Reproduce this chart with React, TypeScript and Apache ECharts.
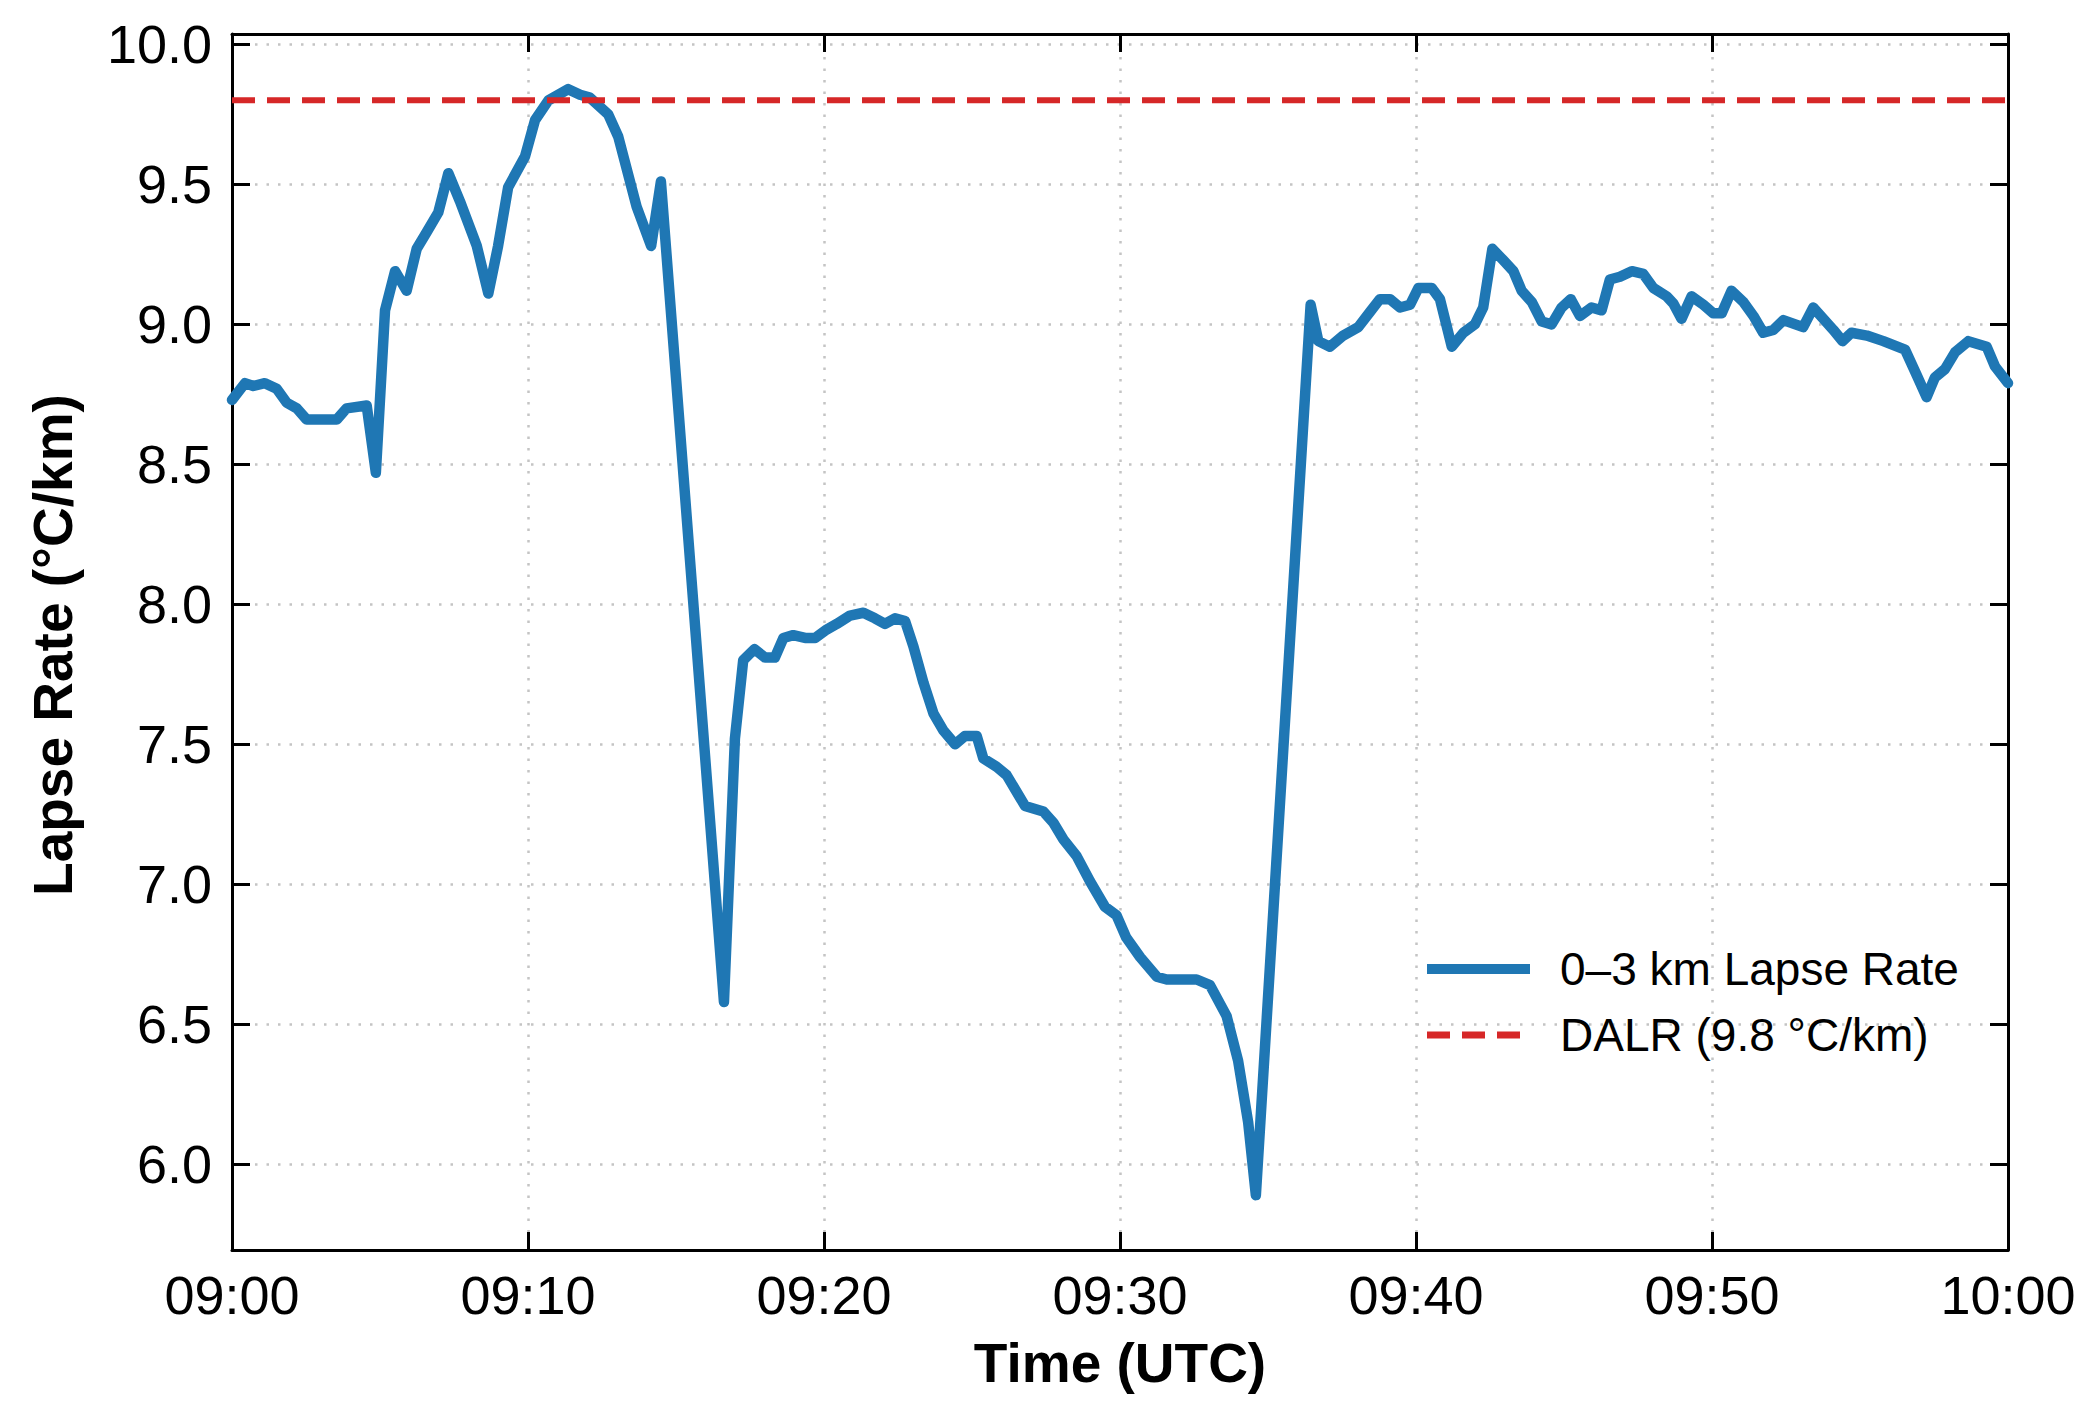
import React, { useEffect, useRef } from "react";
import * as echarts from "echarts";

// minutes after 09:00 UTC
const minutes = [
  0.0, 0.44, 0.72, 1.11, 1.51, 1.85, 2.19, 2.52, 2.86, 3.54, 3.87, 4.55, 4.86, 5.17, 5.51, 5.9, 6.24, 6.58, 6.97, 7.31,
  7.7, 8.27, 8.66, 8.99, 9.33, 9.9, 10.24, 10.69, 11.36, 11.76, 12.09, 12.71, 13.05, 13.67, 14.16, 14.49, 16.62, 16.99,
  17.27, 17.65, 18.01, 18.34, 18.63, 18.96, 19.36, 19.7, 20.09, 20.43, 20.88, 21.33, 21.72, 22.06, 22.4, 22.74, 23.02,
  23.36, 23.7, 24.03, 24.43, 24.76, 25.16, 25.38, 25.83, 26.17, 26.51, 26.79, 27.41, 27.75, 28.09, 28.54, 28.99, 29.49,
  29.88, 30.21, 30.68, 31.24, 31.58, 32.59, 33.04, 33.6, 33.99, 34.33, 34.59, 36.44, 36.7, 37.09, 37.54, 38.05, 38.45,
  38.78, 39.12, 39.46, 39.8, 40.08, 40.53, 40.81, 41.21, 41.6, 41.99, 42.27, 42.58, 42.94, 43.29, 43.57, 43.91, 44.25,
  44.58, 44.92, 45.23, 45.54, 45.93, 46.27, 46.55, 46.89, 47.29, 47.68, 48.02, 48.47, 48.69, 48.97, 49.31, 49.71, 50.04,
  50.33, 50.66, 51.06, 51.4, 51.73, 52.07, 52.41, 53.08, 53.42, 53.76, 54.1, 54.41, 54.71, 55.23, 55.79, 56.52, 56.91,
  57.25, 57.53, 57.87, 58.21, 58.66, 59.28, 59.56, 60.0,
];

// 0–3 km lapse rate, °C/km
const lapseRate = [
  8.73, 8.79, 8.78, 8.79, 8.77, 8.72, 8.7, 8.66, 8.66, 8.66, 8.7, 8.71, 8.47, 9.05, 9.19, 9.12, 9.27, 9.33, 9.4, 9.54,
  9.44, 9.28, 9.11, 9.28, 9.49, 9.6, 9.73, 9.8, 9.84, 9.82, 9.81, 9.75, 9.67, 9.42, 9.28, 9.51, 6.58, 7.52,
  7.8, 7.84, 7.81, 7.81, 7.88, 7.89, 7.88, 7.88, 7.91, 7.93, 7.96, 7.97, 7.95, 7.93, 7.95, 7.94, 7.85,
  7.72, 7.61, 7.55, 7.5, 7.53, 7.53, 7.45, 7.42, 7.39, 7.33, 7.28, 7.26, 7.22, 7.16, 7.1, 7.01, 6.92,
  6.89, 6.81, 6.74, 6.67, 6.66, 6.66, 6.64, 6.53, 6.37, 6.15, 5.89, 9.07, 8.94, 8.92, 8.96, 8.99, 9.045,
  9.09, 9.09, 9.06, 9.07, 9.13, 9.13, 9.09, 8.92, 8.97, 9.0, 9.06, 9.27, 9.23, 9.19, 9.12, 9.08, 9.01,
  9.0, 9.06, 9.09, 9.03, 9.06, 9.05, 9.16, 9.17, 9.19, 9.18, 9.13, 9.1, 9.075, 9.02, 9.1, 9.07, 9.04,
  9.04, 9.12, 9.08, 9.03, 8.97, 8.98, 9.015, 8.99, 9.06, 9.02, 8.98, 8.94, 8.97, 8.96, 8.94, 8.91, 8.82,
  8.74, 8.81, 8.84, 8.9, 8.94, 8.92, 8.85, 8.79,
];

const dalrValue = 9.8;
const dalrMinutes = [0, 60];
const seriesNames = ["0–3 km Lapse Rate", "DALR (9.8 °C/km)"];
const xTitle = "Time (UTC)";
const yTitle = "Lapse Rate (°C/km)";
const xRange = [0, 60];
const yRange = [5.694, 10.037];
const xTickValues = [0, 10, 20, 30, 40, 50, 60];
const yTickValues = [6.0, 6.5, 7.0, 7.5, 8.0, 8.5, 9.0, 9.5, 10.0];

const FONT = '"Liberation Sans", Arial, Helvetica, sans-serif';
const BLUE = "#1f77b4";
const RED = "#d62728";

const fmtTime = (v: number) => {
  const total = 9 * 60 + Math.round(v);
  const h = Math.floor(total / 60);
  const m = total % 60;
  return `${String(h).padStart(2, "0")}:${String(m).padStart(2, "0")}`;
};

export default function App() {
  const ref = useRef<HTMLDivElement>(null);
  useEffect(() => {
    const chart = echarts.init(ref.current!, null, { renderer: "svg" });
    const axisLine = { show: true, onZero: false, lineStyle: { color: "#000", width: 3 } };
    const tickStyle = { color: "#000", width: 3 };
    const splitLine = { show: true, lineStyle: { color: "#c4c4c4", width: 2.5, type: [2.5, 9] } };
    const xTick = { show: true, inside: true, length: 18, lineStyle: tickStyle, customValues: xTickValues };
    const yTick = { show: true, inside: true, length: 18, lineStyle: tickStyle, customValues: yTickValues };
    chart.setOption({
      animation: false,
      backgroundColor: "#fff",
      grid: { left: 232, top: 34, width: 1776, height: 1216, show: false },
      xAxis: [
        {
          type: "value",
          position: "bottom",
          min: xRange[0],
          max: xRange[1],
          interval: 10,
          axisLine,
          axisTick: xTick,
          splitLine,
          axisLabel: {
            customValues: xTickValues,
            formatter: fmtTime,
            fontSize: 54,
            color: "#000",
            fontFamily: FONT,
            margin: 18,
          },
        },
        {
          type: "value",
          position: "top",
          min: xRange[0],
          max: xRange[1],
          interval: 10,
          axisLine,
          axisTick: xTick,
          splitLine: { show: false },
          axisLabel: { show: false },
        },
      ],
      yAxis: [
        {
          type: "value",
          position: "left",
          min: yRange[0],
          max: yRange[1],
          axisLine,
          axisTick: yTick,
          splitLine,
          axisLabel: {
            customValues: yTickValues,
            formatter: (v: number) => v.toFixed(1),
            fontSize: 54,
            color: "#000",
            fontFamily: FONT,
            margin: 20,
          },
        },
        {
          type: "value",
          position: "right",
          min: yRange[0],
          max: yRange[1],
          axisLine,
          axisTick: yTick,
          splitLine: { show: false },
          axisLabel: { show: false },
        },
      ],
      legend: {
        orient: "vertical",
        left: 1422,
        top: 944,
        padding: 0,
        itemWidth: 103,
        itemHeight: 12,
        itemGap: 16,
        textStyle: { fontSize: 46, fontFamily: FONT, color: "#000", lineHeight: 50, padding: [0, 0, 0, 25] },
        data: [
          {
            name: seriesNames[0],
            itemStyle: { opacity: 0 },
            lineStyle: { width: 10, color: BLUE, type: "solid", cap: "butt" },
          },
          {
            name: seriesNames[1],
            itemStyle: { opacity: 0 },
            lineStyle: { width: 7, color: RED, type: [23, 12], cap: "butt" },
          },
        ],
      },
      series: [
        {
          name: seriesNames[0],
          type: "line",
          xAxisIndex: 0,
          yAxisIndex: 0,
          data: minutes.map((m, i) => [m, lapseRate[i]]),
          symbol: "none",
          showSymbol: false,
          color: BLUE,
          lineStyle: { color: BLUE, width: 10.5, join: "round", cap: "round" },
          z: 3,
        },
        {
          name: seriesNames[1],
          type: "line",
          xAxisIndex: 0,
          yAxisIndex: 0,
          data: dalrMinutes.map((m) => [m, dalrValue]),
          symbol: "none",
          showSymbol: false,
          color: RED,
          lineStyle: { color: RED, width: 6, type: [23, 12] },
          z: 4,
        },
      ],
      graphic: [
        {
          type: "text",
          x: 1120,
          y: 1363,
          style: {
            text: xTitle,
            fontSize: 55,
            fontWeight: "bold",
            fontFamily: FONT,
            fill: "#000",
            align: "center",
            verticalAlign: "middle",
          },
        },
        {
          type: "text",
          x: 53,
          y: 645,
          rotation: Math.PI / 2,
          style: {
            text: yTitle,
            fontSize: 55,
            fontWeight: "bold",
            fontFamily: FONT,
            fill: "#000",
            align: "center",
            verticalAlign: "middle",
          },
        },
      ],
    });
    return () => chart.dispose();
  }, []);
  return (
    <div
      ref={ref}
      style={{ position: "fixed", left: 0, top: 0, width: 2095, height: 1419, background: "#fff" }}
    />
  );
}
